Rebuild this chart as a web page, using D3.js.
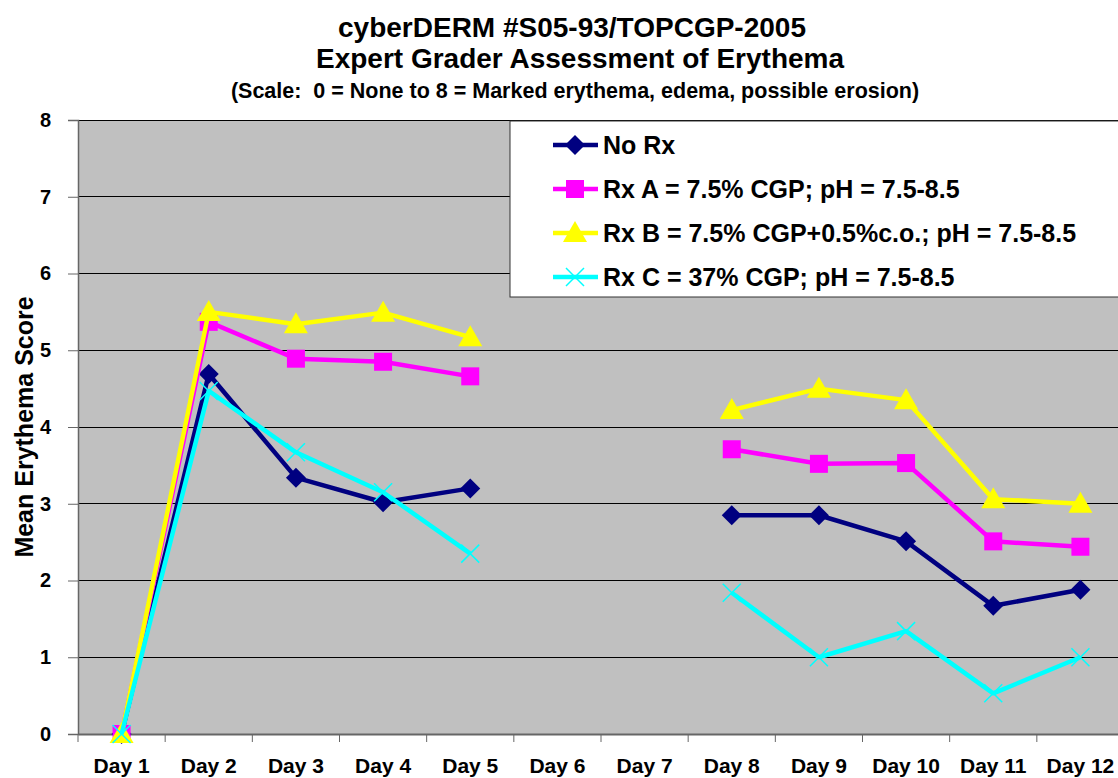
<!DOCTYPE html>
<html>
<head>
<meta charset="utf-8">
<script src="https://cdn.jsdelivr.net/npm/d3@7"></script>
<style>
  body { margin: 0; background: #fff; }
  svg { display: block; font-family: "Liberation Sans", Arial, sans-serif; }
</style>
</head>
<body>
<svg id="chart"></svg>
<script>
const days = ["Day 1", "Day 2", "Day 3", "Day 4", "Day 5", "Day 6", "Day 7", "Day 8", "Day 9", "Day 10", "Day 11", "Day 12"];
const noRx = [0, 4.69, 3.34, 3.02, 3.2, null, null, 2.85, 2.85, 2.51, 1.67, 1.88];
const rxA = [0, 5.37, 4.89, 4.85, 4.66, null, null, 3.71, 3.52, 3.53, 2.51, 2.44];
const rxB = [0, 5.5, 5.34, 5.49, 5.17, null, null, 4.22, 4.5, 4.35, 3.06, 3.0];
const rxC = [0, 4.47, 3.67, 3.15, 2.35, null, null, 1.84, 1.0, 1.34, 0.53, 1.0];
const yTicks = [0, 1, 2, 3, 4, 5, 6, 7, 8];

const series = [
    {name: "No Rx", values: noRx, color: "#000080", marker: "diamond"},
    {name: "Rx A = 7.5% CGP; pH = 7.5-8.5", values: rxA, color: "#FF00FF", marker: "square"},
    {name: "Rx B = 7.5% CGP+0.5%c.o.; pH = 7.5-8.5", values: rxB, color: "#FFFF00", marker: "triangle"},
    {name: "Rx C = 37% CGP; pH = 7.5-8.5", values: rxC, color: "#00FFFF", marker: "cross"},
];

const width = 1118, height = 778;
const margin = {top: 120, left: 78, bottom: 44};
const plotW = 1046;
const svg = d3.select("#chart").attr("width", width).attr("height", height);

const x = d3.scaleBand().domain(days).range([margin.left, margin.left + plotW]);
const y = d3.scaleLinear().domain([0, 8]).range([height - margin.bottom, margin.top]);

// plot background
svg.append("rect")
    .attr("x", margin.left).attr("y", y(8))
    .attr("width", plotW).attr("height", y(0) - y(8))
    .attr("fill", "#C0C0C0");

// gridlines
svg.append("g").selectAll("line")
    .data(yTicks.filter(d => d > 0))
    .enter().append("line")
    .attr("x1", margin.left).attr("x2", margin.left + plotW)
    .attr("y1", d => y(d)).attr("y2", d => y(d))
    .attr("stroke", "#000").attr("stroke-width", 1)
    .attr("shape-rendering", "crispEdges");

// y axis
const yAxis = svg.append("g")
    .attr("transform", `translate(${margin.left},0)`)
    .call(d3.axisLeft(y).tickValues(yTicks).tickSize(10).tickPadding(17).tickFormat(d3.format("d")));
yAxis.select(".domain").attr("stroke", "#666").attr("stroke-width", 1.5);
yAxis.selectAll(".tick line").attr("stroke", "#666");
yAxis.selectAll("text").attr("font-size", 20).attr("font-weight", "bold")
    .attr("font-family", "Liberation Sans, Arial, sans-serif").attr("fill", "#000");

// x axis
const xAxis = svg.append("g")
    .attr("transform", `translate(0,${y(0)})`)
    .call(d3.axisBottom(x).tickSize(0).tickPadding(24));
xAxis.select(".domain").attr("stroke", "#666").attr("stroke-width", 2);
xAxis.selectAll("text").attr("font-size", 21).attr("font-weight", "bold")
    .attr("font-family", "Liberation Sans, Arial, sans-serif").attr("fill", "#000");
// category boundary ticks
xAxis.selectAll(".bound")
    .data(days)
    .enter().append("line")
    .attr("x1", d => x(d)).attr("x2", d => x(d))
    .attr("y1", 0).attr("y2", 8)
    .attr("stroke", "#666").attr("stroke-width", 1);

// axis title
svg.append("text")
    .attr("transform", `translate(33,${(y(0) + y(8)) / 2}) rotate(-90)`)
    .attr("text-anchor", "middle")
    .attr("font-size", 25).attr("font-weight", "bold")
    .text("Mean Erythema Score");

// titles
svg.append("text").attr("x", 572).attr("y", 37).attr("text-anchor", "middle")
    .attr("font-size", 28).attr("font-weight", "bold").text("cyberDERM #S05-93/TOPCGP-2005");
svg.append("text").attr("x", 580).attr("y", 68).attr("text-anchor", "middle")
    .attr("font-size", 28).attr("font-weight", "bold").text("Expert Grader Assessment of Erythema");
svg.append("text").attr("x", 575).attr("y", 98).attr("text-anchor", "middle")
    .attr("font-size", 21.5).attr("font-weight", "bold")
    .attr("xml:space", "preserve")
    .text("(Scale:  0 = None to 8 = Marked erythema, edema, possible erosion)");

function drawMarker(g, type, color) {
    if (type === "diamond") {
        g.append("path").attr("d", "M0,-10L10,0L0,10L-10,0Z").attr("fill", color);
    } else if (type === "square") {
        g.append("rect").attr("x", -9).attr("y", -9).attr("width", 18).attr("height", 18).attr("fill", color);
    } else if (type === "triangle") {
        g.append("path").attr("d", "M0,-12L12,9L-12,9Z").attr("fill", color);
    } else {
        g.append("path").attr("d", "M-9,-9L9,9M-9,9L9,-9").attr("stroke", color).attr("stroke-width", 1.5).attr("fill", "none");
    }
}

const line = d3.line()
    .defined(d => d.v !== null)
    .x(d => x(d.day) + x.bandwidth() / 2)
    .y(d => y(d.v));

series.forEach(s => {
    const pts = days.map((day, i) => ({day, v: s.values[i]}));
    const g = svg.append("g");
    g.append("path").datum(pts)
        .attr("d", line)
        .attr("fill", "none")
        .attr("stroke", s.color)
        .attr("stroke-width", 4.5)
        .attr("stroke-linejoin", "round");
    pts.filter(d => d.v !== null).forEach(d => {
        const m = g.append("g").attr("transform", `translate(${x(d.day) + x.bandwidth() / 2},${y(d.v)})`);
        drawMarker(m, s.marker, s.color);
    });
});

// legend
const legend = svg.append("g");
legend.append("rect")
    .attr("x", 510).attr("y", 121).attr("width", 640).attr("height", 176)
    .attr("fill", "#fff").attr("stroke", "#333").attr("stroke-width", 1);
series.forEach((s, i) => {
    const ly = 145 + i * 44;
    const lg = legend.append("g");
    lg.append("line").attr("x1", 553).attr("x2", 598).attr("y1", ly).attr("y2", ly)
        .attr("stroke", s.color).attr("stroke-width", 4.5);
    const m = lg.append("g").attr("transform", `translate(575,${ly})`);
    drawMarker(m, s.marker, s.color);
    lg.append("text").attr("x", 603).attr("y", ly + 9)
        .attr("font-size", 25).attr("font-weight", "bold").text(s.name);
});
</script>
</body>
</html>
